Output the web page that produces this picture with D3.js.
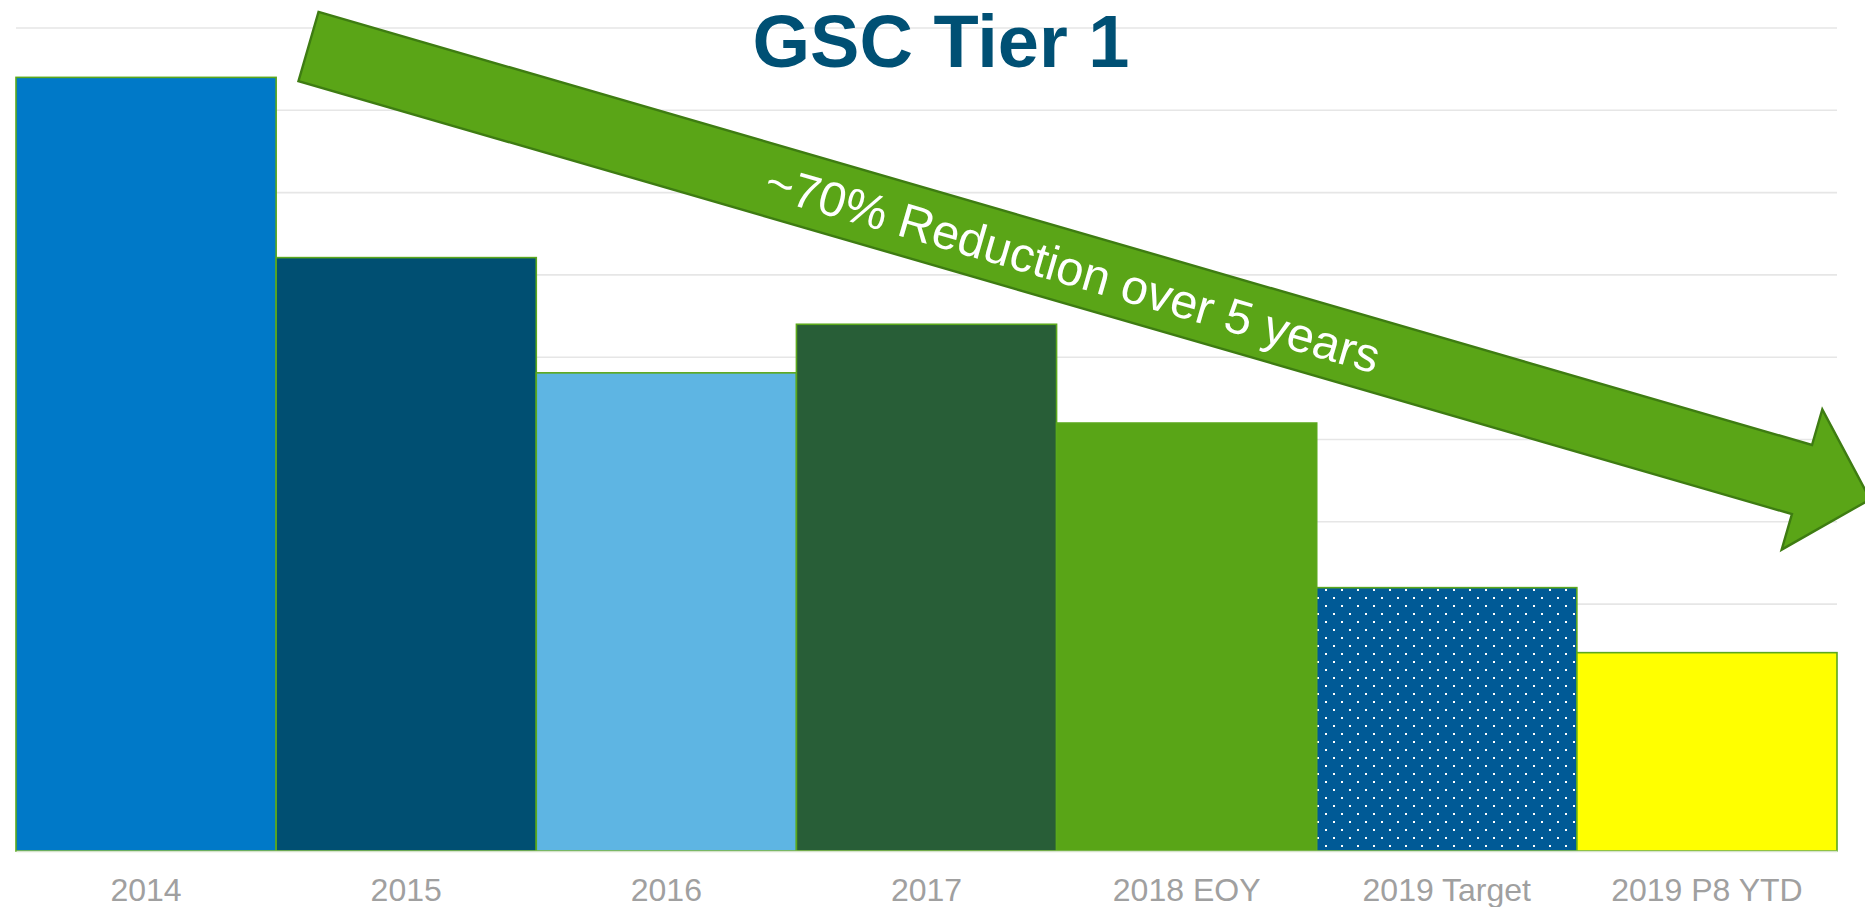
<!DOCTYPE html>
<html>
<head>
<meta charset="utf-8">
<script src="https://cdn.jsdelivr.net/npm/d3@7"></script>
<style>
  body { margin: 0; background: #fff; }
  svg { display: block; font-family: "Liberation Sans", Arial, sans-serif; }
</style>
</head>
<body>
<div id="chart"></div>
<script>
var svgWidth = 1865;
var svgHeight = 907;

var margin = { top: 28, right: 28, bottom: 56, left: 16 };

var width = svgWidth - margin.left - margin.right;
var height = svgHeight - margin.top - margin.bottom;

// data
var categories = ["2014", "2015", "2016", "2017", "2018 EOY", "2019 Target", "2019 P8 YTD"];
var values = [9.40, 7.21, 5.81, 6.40, 5.20, 3.20, 2.41];
var barColors = ["#0079c8", "#004f72", "#5eb5e3", "#285e37", "#59a517", "url(#dots)", "#ffff00"];
var yTicks = [0, 1, 2, 3, 4, 5, 6, 7, 8, 9, 10];

var svg = d3.select("#chart")
    .append("svg")
    .attr("width", svgWidth)
    .attr("height", svgHeight);

// dotted fill for the target bar
var pattern = svg.append("defs")
    .append("pattern")
    .attr("id", "dots")
    .attr("patternUnits", "userSpaceOnUse")
    .attr("width", 16)
    .attr("height", 16)
    .attr("x", 13)
    .attr("y", 1);
pattern.append("rect")
    .attr("width", 16)
    .attr("height", 16)
    .attr("fill", "#005a96");
pattern.append("rect").attr("x", 0).attr("y", 0).attr("width", 2).attr("height", 2).attr("fill", "#fff");
pattern.append("rect").attr("x", 8).attr("y", 8).attr("width", 2).attr("height", 2).attr("fill", "#fff");

var chartGroup = svg.append("g")
    .attr("transform", `translate(${margin.left}, ${margin.top})`);

var xBandScale = d3.scaleBand()
    .domain(categories)
    .range([0, width])
    .padding(0);

var yLinearScale = d3.scaleLinear()
    .domain([0, 10])
    .range([height, 0]);

// gridlines
chartGroup.append("g")
    .selectAll("line")
    .data(yTicks)
    .enter()
    .append("line")
    .attr("x1", 0)
    .attr("x2", width)
    .attr("y1", d => yLinearScale(d))
    .attr("y2", d => yLinearScale(d))
    .attr("stroke", "#e6e6e6")
    .attr("stroke-width", 1.6);

// bars
chartGroup.append("g")
    .selectAll("rect")
    .data(values)
    .enter()
    .append("rect")
    .attr("x", (d, i) => xBandScale(categories[i]))
    .attr("y", d => yLinearScale(d))
    .attr("width", xBandScale.bandwidth())
    .attr("height", d => height - yLinearScale(d))
    .attr("fill", (d, i) => barColors[i])
    .attr("stroke", "#5ba81c")
    .attr("stroke-width", 1.6);

// x axis labels
var bottomAxis = d3.axisBottom(xBandScale).tickSize(0).tickPadding(27);
var xAxis = chartGroup.append("g")
    .attr("transform", `translate(0, ${height})`)
    .call(bottomAxis);
xAxis.select(".domain")
    .attr("stroke", "#d5e3cc")
    .attr("stroke-width", 1.6);
xAxis.selectAll("text")
    .attr("font-size", 32)
    .attr("font-family", "Liberation Sans, Arial, sans-serif")
    .attr("fill", "#a0a0a0");

// title
svg.append("text")
    .attr("x", 941)
    .attr("y", 67)
    .attr("text-anchor", "middle")
    .attr("font-size", 74)
    .attr("font-weight", "bold")
    .attr("fill", "#005074")
    .text("GSC Tier 1");

// big trend arrow, drawn in its own rotated frame
var arrowAngle = 16.17;
var shaftLen = 1555, shaftHalf = 36, headHalf = 73, headLen = 71;
var arrowGroup = svg.append("g")
    .attr("transform", `translate(308.5, 46.5) rotate(${arrowAngle})`);

var arrowPts = [
  [0, -shaftHalf], [shaftLen, -shaftHalf], [shaftLen, -headHalf],
  [shaftLen + headLen, 0], [shaftLen, headHalf], [shaftLen, shaftHalf], [0, shaftHalf]
];
arrowGroup.append("path")
    .attr("d", d3.line()(arrowPts) + "Z")
    .attr("fill", "#5aa517")
    .attr("stroke", "#3e7c12")
    .attr("stroke-width", 2.4)
    .attr("stroke-linejoin", "miter");

arrowGroup.append("text")
    .attr("x", 796)
    .attr("y", 0)
    .attr("dy", "0.36em")
    .attr("text-anchor", "middle")
    .attr("font-size", 48.5)
    .attr("fill", "#ffffff")
    .text("~70% Reduction over 5 years");
</script>
</body>
</html>
